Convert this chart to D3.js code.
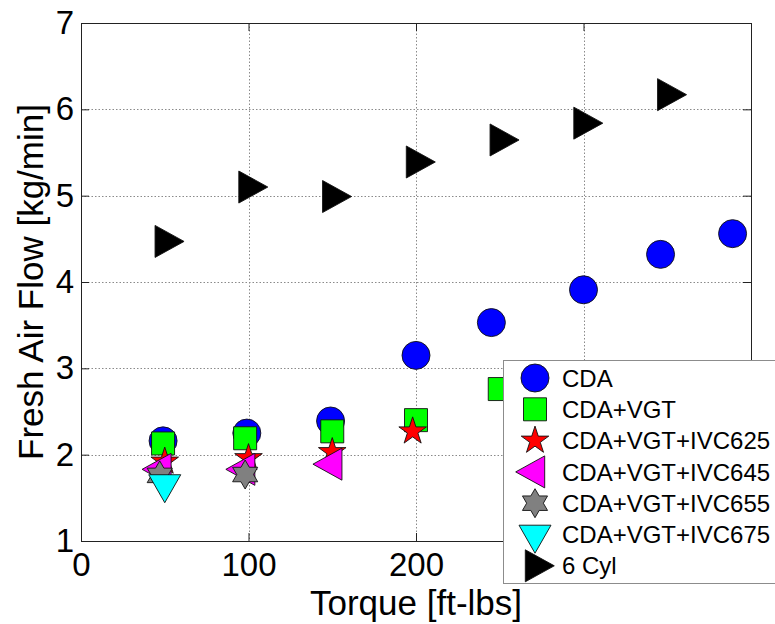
<!DOCTYPE html>
<html>
<head>
<meta charset="utf-8">
<script src="https://cdn.jsdelivr.net/npm/d3@7"></script>
<style>
  html, body { margin: 0; padding: 0; background: #fff; }
  svg { display: block; }
  text { font-family: "Liberation Sans", Arial, Helvetica, sans-serif; fill: #000; }
</style>
</head>
<body>
<svg id="chart" width="775" height="624"></svg>
<script>
// Fresh air flow versus torque for several engine strategies
const xTicks = [0, 100, 200, 300];
const xTickLabels = ["0", "100", "200", ""];   // the 300 label sits under the legend
const yTicks = [1, 2, 3, 4, 5, 6, 7];

const torqueCDA = [49, 99, 149, 200, 245, 300, 346, 389];
const flowCDA   = [2.16, 2.25, 2.39, 3.15, 3.53, 3.91, 4.32, 4.56];

const torqueVGT = [49, 98, 150, 200, 250];
const flowVGT   = [2.13, 2.19, 2.27, 2.40, 2.76];

const torque625 = [50, 100, 150, 198];
const flow625   = [1.92, 1.96, 2.03, 2.27];

const torque645 = [48, 98, 150];
const flow645   = [1.83, 1.83, 1.89];

const torque655 = [47, 98];
const flow655   = [1.76, 1.77];

const torque675 = [50];
const flow675   = [1.66];

const torque6Cyl = [50, 100, 150, 200, 250, 300, 350];
const flow6Cyl   = [4.47, 5.10, 4.99, 5.39, 5.645, 5.84, 6.17];

const seriesNames  = ["CDA", "CDA+VGT", "CDA+VGT+IVC625", "CDA+VGT+IVC645",
                      "CDA+VGT+IVC655", "CDA+VGT+IVC675", "6 Cyl"];
const seriesColors = ["#0000ff", "#00ff00", "#ff0000", "#ff00ff",
                      "#808080", "#00ffff", "#000000"];
const seriesShapes = ["circle", "square", "pentagram", "triangleLeft",
                      "hexagram", "triangleDown", "triangleRight"];

const series = [
  [torqueCDA, flowCDA], [torqueVGT, flowVGT], [torque625, flow625],
  [torque645, flow645], [torque655, flow655], [torque675, flow675],
  [torque6Cyl, flow6Cyl]
].map(([xs, ys], i) => ({
  name: seriesNames[i], color: seriesColors[i], shape: seriesShapes[i],
  points: xs.map((x, j) => ({ x, y: ys[j] }))
}));

const svg = d3.select("#chart");
const plotLeft = 81, plotRight = 751, plotTop = 23, plotBottom = 541;

const x = d3.scaleLinear().domain([0, 400]).range([plotLeft, plotRight]);
const y = d3.scaleLinear().domain([1, 7]).range([plotBottom, plotTop]);

// Marker outlines, centred the way the plotting tool centres them
function star(points, outer, inner, rot) {
  const p = [];
  for (let k = 0; k < points * 2; k++) {
    const r = k % 2 === 0 ? outer : inner;
    const a = rot + k * Math.PI / points;
    p.push([r * Math.cos(a), r * Math.sin(a)]);
  }
  return "M" + p.map(q => q[0].toFixed(2) + "," + q[1].toFixed(2)).join("L") + "Z";
}
function markerPath(shape) {
  switch (shape) {
    case "circle": return d3.arc()({ innerRadius: 0, outerRadius: 14, startAngle: 0, endAngle: 2 * Math.PI });
    case "square": return "M-11.5,-11.5H11.5V11.5H-11.5Z";
    case "pentagram": return star(5, 14.5, 14.5 * 0.382, -Math.PI / 2);
    case "hexagram": return star(6, 14.5, 14.5 / Math.sqrt(3), -Math.PI / 2);
    case "triangleLeft": return "M-19.3,0L9.7,-16L9.7,16Z";
    case "triangleRight": return "M19.3,0L-9.7,-16L-9.7,16Z";
    case "triangleDown": return "M0,18.7L-16,-9.3L16,-9.3Z";
  }
}

// Grid
const grid = svg.append("g").attr("stroke", "#8a8a8a").attr("stroke-width", 1)
  .attr("stroke-dasharray", "1.5,2");
grid.selectAll("line.gx").data(xTicks.filter(t => t > 0)).enter().append("line")
  .attr("x1", d => Math.round(x(d)) + 0.5).attr("x2", d => Math.round(x(d)) + 0.5)
  .attr("y1", plotTop).attr("y2", plotBottom);
grid.selectAll("line.gy").data(yTicks.filter(t => t > 1 && t < 7)).enter().append("line")
  .attr("y1", d => Math.round(y(d)) + 0.5).attr("y2", d => Math.round(y(d)) + 0.5)
  .attr("x1", plotLeft).attr("x2", plotRight);

// Axes with inward ticks on all four sides
const tick = 8;
const axBottom = d3.axisBottom(x).tickValues(xTicks).tickSize(-tick).tickPadding(12)
  .tickFormat((d, i) => xTickLabels[i]);
const axTop = d3.axisTop(x).tickValues(xTicks).tickSize(-tick).tickFormat("");
const axLeft = d3.axisLeft(y).tickValues(yTicks).tickSize(-tick).tickPadding(7).tickFormat(d3.format("d"));
const axRight = d3.axisRight(y).tickValues(yTicks).tickSize(-tick).tickFormat("");

function styleAxis(g) {
  g.select(".domain").attr("stroke", "#222");
  g.selectAll(".tick line").attr("stroke", "#222");
  g.selectAll(".tick text").style("font-size", "33px").attr("fill", "#000");
}
svg.append("g").attr("transform", `translate(0,${plotBottom})`).call(axBottom).call(styleAxis)
  .call(g => g.select(".domain").attr("d", `M${plotLeft},0.5H${plotRight}`));
svg.append("g").attr("transform", `translate(0,${plotTop})`).call(axTop).call(styleAxis)
  .call(g => g.select(".domain").attr("d", `M${plotLeft},0.5H${plotRight}`));
svg.append("g").attr("transform", `translate(${plotLeft},0)`).call(axLeft).call(styleAxis)
  .call(g => g.select(".domain").attr("d", `M0.5,${plotTop}V${plotBottom}`));
svg.append("g").attr("transform", `translate(${plotRight},0)`).call(axRight).call(styleAxis)
  .call(g => g.select(".domain").attr("d", `M0.5,${plotTop}V${plotBottom}`));

// Data markers
series.forEach(s => {
  svg.append("g").selectAll("path").data(s.points).enter().append("path")
    .attr("d", markerPath(s.shape))
    .attr("transform", d => `translate(${x(d.x)},${y(d.y)})`)
    .attr("fill", s.color)
    .attr("stroke", "#111")
    .attr("stroke-width", 0.9);
});

// Axis titles
svg.append("text").attr("x", (plotLeft + plotRight) / 2).attr("y", 615)
  .attr("text-anchor", "middle").style("font-size", "35px").text("Torque [ft-lbs]");
svg.append("text").attr("transform", `translate(43,${(plotTop + plotBottom) / 2}) rotate(-90)`)
  .attr("text-anchor", "middle").style("font-size", "35px").text("Fresh Air Flow [kg/min]");

// Legend
const legend = svg.append("g");
legend.append("rect").attr("x", 503.5).attr("y", 360.5).attr("width", 320).attr("height", 223)
  .attr("fill", "#fff").attr("stroke", "#8c8c8c").attr("stroke-width", 1);
const rows = legend.selectAll("g.row").data(series).enter().append("g")
  .attr("transform", (d, i) => `translate(0,${378 + i * 31.3})`);
rows.append("path").attr("d", d => markerPath(d.shape))
  .attr("transform", "translate(535,0)")
  .attr("fill", d => d.color).attr("stroke", "#111").attr("stroke-width", 0.9);
rows.append("text").attr("x", 562).attr("y", 8.6).style("font-size", "24px").text(d => d.name);
</script>
</body>
</html>
